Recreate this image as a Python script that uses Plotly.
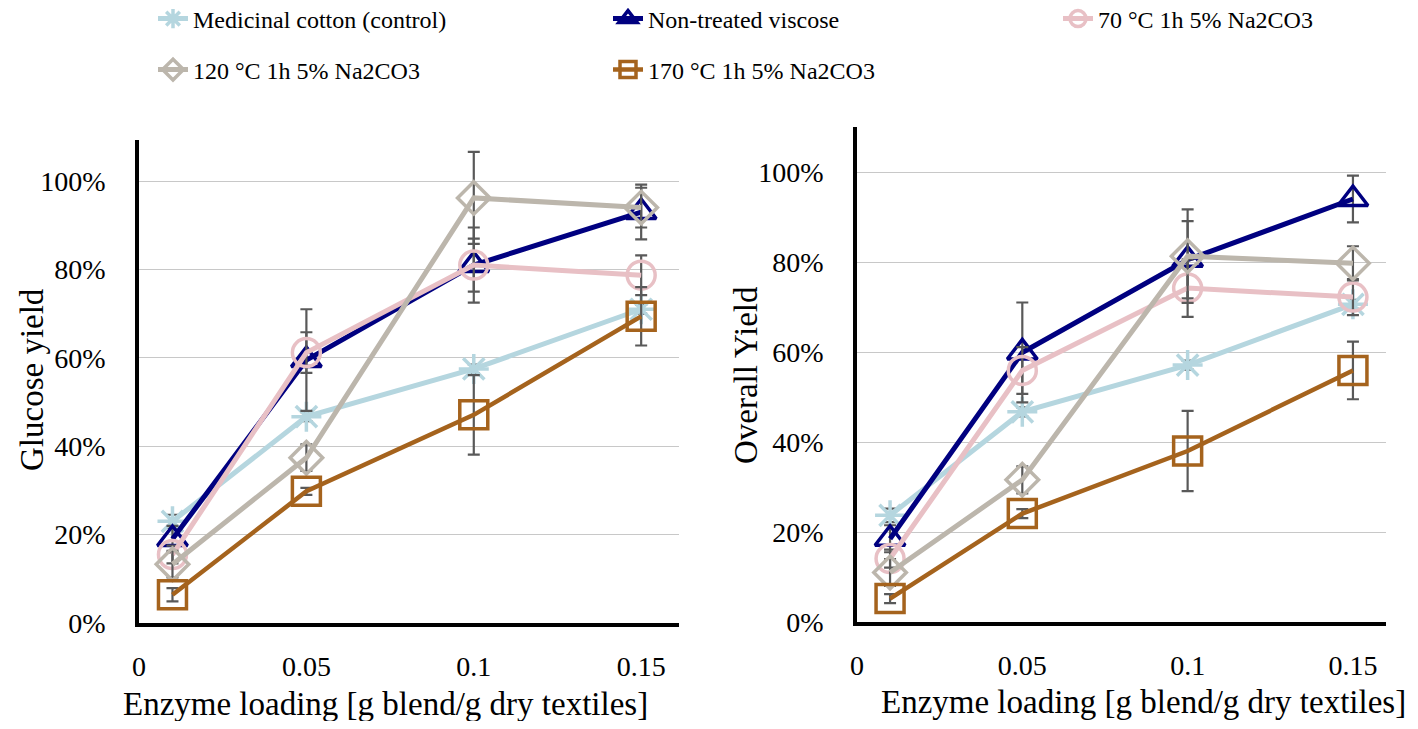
import plotly.graph_objects as go

# ---------------- data ----------------
enzyme_loading = [0.01, 0.05, 0.10, 0.15]

series_names = [
    "Medicinal cotton (control)",
    "Non-treated viscose",
    "70 °C 1h 5% Na2CO3",
    "120 °C 1h 5% Na2CO3",
    "170 °C 1h 5% Na2CO3",
]

# Glucose yield (left panel)
glucose_cotton = [0.230, 0.467, 0.575, 0.710]
glucose_viscose = [0.190, 0.595, 0.810, 0.930]
glucose_70 = [0.155, 0.612, 0.810, 0.787]
glucose_120 = [0.133, 0.374, 0.962, 0.940]
glucose_170 = [0.064, 0.298, 0.471, 0.694]

glucose_cotton_err = [0.015, 0.010, 0.010, 0.010]
glucose_viscose_err = [0.030, 0.115, 0.085, 0.062]
glucose_70_err = [0.020, 0.046, 0.060, 0.045]
glucose_120_err = [0.030, 0.030, 0.104, 0.045]
glucose_170_err = [0.015, 0.008, 0.090, 0.066]

# Overall yield (right panel)
overall_cotton = [0.237, 0.467, 0.571, 0.706]
overall_viscose = [0.185, 0.599, 0.805, 0.940]
overall_70 = [0.141, 0.559, 0.742, 0.722]
overall_120 = [0.110, 0.316, 0.813, 0.797]
overall_170 = [0.052, 0.241, 0.380, 0.559]

overall_cotton_err = [0.015, 0.010, 0.010, 0.010]
overall_viscose_err = [0.030, 0.111, 0.086, 0.052]
overall_70_err = [0.020, 0.052, 0.064, 0.040]
overall_120_err = [0.030, 0.030, 0.104, 0.038]
overall_170_err = [0.010, 0.010, 0.089, 0.064]

x_tick_vals = [0, 0.05, 0.10, 0.15]
x_tick_text = ["0", "0.05", "0.1", "0.15"]
y_tick_vals = [0, 0.2, 0.4, 0.6, 0.8, 1.0]

# ---------------- styles ----------------
colors = ["#b5d6df", "#000080", "#e8c0c5", "#bcb6ac", "#a5631d"]
symbols = ["asterisk-open", "triangle-up-open", "circle-open", "diamond-open", "square-open"]
msizes = [25, 26, 28, 25, 28]
line_widths = [5, 5, 5, 5, 4.5]
legend_ids = ["legend", "legend2", "legend3", "legend4", "legend5"]
legend_pos = [(153, 19), (608, 19), (1058, 19), (153, 70), (608, 70)]
FONT = "Liberation Serif"
ERR_COLOR = "#595959"

glucose = [glucose_cotton, glucose_viscose, glucose_70, glucose_120, glucose_170]
glucose_err = [glucose_cotton_err, glucose_viscose_err, glucose_70_err, glucose_120_err, glucose_170_err]
overall = [overall_cotton, overall_viscose, overall_70, overall_120, overall_170]
overall_err = [overall_cotton_err, overall_viscose_err, overall_70_err, overall_120_err, overall_170_err]

fig = go.Figure()

for panel, (ys, errs, xa, ya) in enumerate([(glucose, glucose_err, "x", "y"),
                                             (overall, overall_err, "x2", "y2")]):
    for i, name in enumerate(series_names):
        fig.add_trace(go.Scatter(
            x=enzyme_loading, y=ys[i], name=name,
            mode="lines+markers",
            line=dict(color=colors[i], width=line_widths[i]),
            marker=dict(symbol=symbols[i], size=msizes[i], color=colors[i],
                        line=dict(color=colors[i], width=3.5)),
            error_y=dict(type="data", array=errs[i], visible=True,
                         color=ERR_COLOR, thickness=2.2, width=6),
            xaxis=xa, yaxis=ya,
            showlegend=(panel == 0),
            legend=legend_ids[i],
        ))

# The page body adds an 8 px margin, so the figure is made 16 px smaller
# and every screen position is shifted by that margin.
PAGE_MARGIN = 8
W, H = 1418 - 2 * PAGE_MARGIN, 729 - 2 * PAGE_MARGIN

def px_x(p):
    return (p - PAGE_MARGIN) / W

def px_y(p):
    return 1 - (p - PAGE_MARGIN) / H

tick_font = dict(family=FONT, size=28, color="black")

def xaxis_cfg(dom, rng, anchor):
    return dict(domain=dom, range=rng, tickvals=x_tick_vals, ticktext=x_tick_text,
                ticklabelstandoff=16, anchor=anchor, automargin=False,
                showline=True, linecolor="black", linewidth=3.5, mirror=False,
                ticks="", showgrid=False, zeroline=False, tickfont=tick_font)

def yaxis_cfg(dom, rng, anchor):
    return dict(domain=dom, range=rng, tickvals=y_tick_vals, tickformat=".0%",
                ticklabelstandoff=24, anchor=anchor, automargin=False,
                showline=True, linecolor="black", linewidth=3.5,
                ticks="", showgrid=True, gridcolor="#c8c8c8", gridwidth=1.3,
                zeroline=False, tickfont=tick_font)

legends = {}
for i, lid in enumerate(legend_ids):
    lx, ly = legend_pos[i]
    legends[lid] = dict(orientation="h", xref="container", yref="container",
                        x=px_x(lx), y=px_y(ly), xanchor="left", yanchor="middle",
                        font=dict(family=FONT, size=24, color="black"),
                        bgcolor="rgba(0,0,0,0)")

fig.update_layout(
    width=W, height=H,
    margin=dict(l=0, r=0, t=0, b=0, autoexpand=False),
    paper_bgcolor="white", plot_bgcolor="white",
    font=dict(family=FONT, color="black"),
    xaxis=xaxis_cfg([px_x(139), px_x(679)], [0, 0.1613], "y"),
    yaxis=yaxis_cfg([px_y(623), px_y(140)], [0, 1.093], "x"),
    xaxis2=xaxis_cfg([px_x(857), px_x(1386)], [0, 0.16], "y2"),
    yaxis2=yaxis_cfg([px_y(622), px_y(127)], [0, 1.10], "x2"),
    annotations=[
        dict(text="Glucose yield", x=px_x(32), y=px_y(380), xref="paper", yref="paper",
             textangle=-90, showarrow=False, font=dict(family=FONT, size=33, color="black"),
             xanchor="center", yanchor="middle"),
        dict(text="Overall Yield", x=px_x(746), y=px_y(375), xref="paper", yref="paper",
             textangle=-90, showarrow=False, font=dict(family=FONT, size=33, color="black"),
             xanchor="center", yanchor="middle"),
        dict(text="Enzyme loading [g blend/g dry textiles]", x=px_x(385), y=px_y(704),
             xref="paper", yref="paper", showarrow=False,
             font=dict(family=FONT, size=33, color="black"),
             xanchor="center", yanchor="middle"),
        dict(text="Enzyme loading [g blend/g dry textiles]", x=px_x(1143), y=px_y(702),
             xref="paper", yref="paper", showarrow=False,
             font=dict(family=FONT, size=33, color="black"),
             xanchor="center", yanchor="middle"),
    ],
    **legends,
)

fig.write_html("out.html")
